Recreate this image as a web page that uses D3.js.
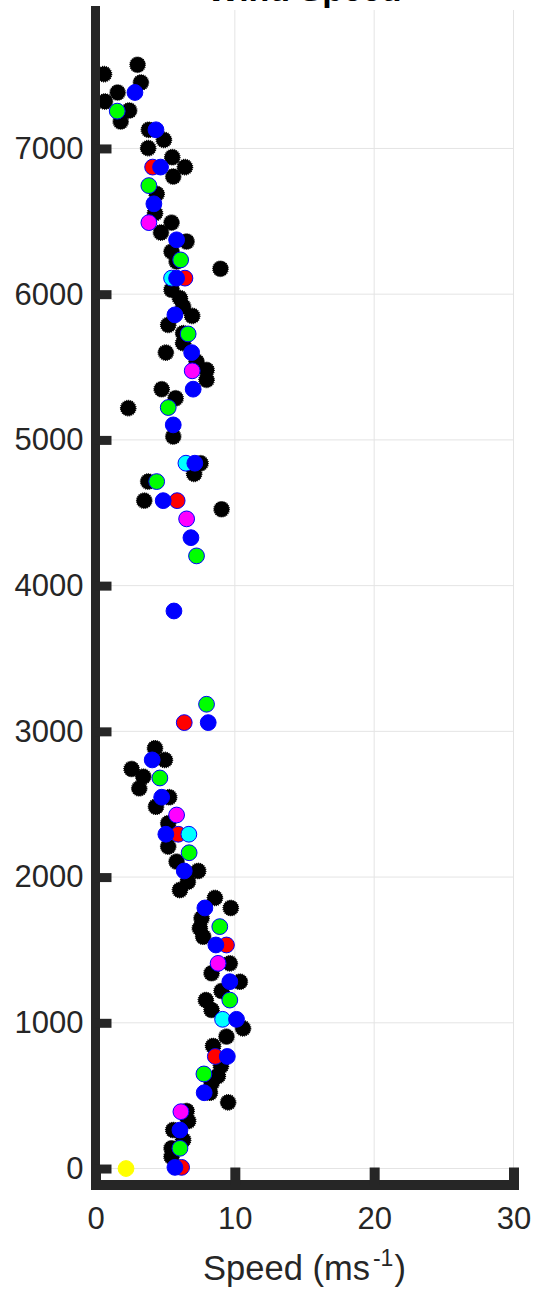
<!DOCTYPE html>
<html>
<head>
<meta charset="utf-8">
<script src="https://cdn.jsdelivr.net/npm/d3@7"></script>
<style>
body { margin: 0; background: #fff; }
</style>
</head>
<body>
<svg id="chart" width="536" height="1293"></svg>
<script>
// axis setup
const xLimits = [0, 30];
const yLimits = [-113, 7950];
const xTicks = [0, 10, 20, 30];
const yTicks = [0, 1000, 2000, 3000, 4000, 5000, 6000, 7000];
const titleText = 'Wind Speed';
const xLabelText = 'Speed (ms';
const xLabelSup = '-1';

// [speed, altitude]
const blackPts = [[0.61,7510],[3.02,7574],[3.26,7452],[1.59,7384],[0.68,7322],[2.42,7260],[1.81,7185],[3.83,7128],[4.91,7059],[3.78,7002],[5.51,6940],[6.42,6872],[5.58,6807],[4.39,6688],[4.27,6556],[5.46,6491],[4.70,6423],[6.54,6361],[5.46,6292],[5.82,6224],[8.97,6174],[5.46,6030],[6.06,5973],[6.29,5915],[6.94,5851],[5.22,5789],[6.29,5732],[6.29,5664],[5.05,5599],[7.25,5537],[7.97,5480],[7.97,5412],[4.75,5348],[5.75,5286],[2.35,5218],[5.58,5023],[7.54,4840],[7.08,4767],[3.78,4714],[3.50,4583],[9.05,4524],[4.27,2884],[4.98,2804],[2.59,2742],[3.43,2689],[3.14,2609],[5.29,2548],[4.34,2483],[5.22,2369],[5.22,2209],[5.82,2106],[7.37,2042],[6.63,1968],[6.06,1911],[8.57,1857],[9.71,1788],[7.61,1717],[7.49,1649],[7.73,1591],[9.64,1408],[8.33,1340],[10.36,1282],[9.05,1218],[7.92,1156],[8.33,1088],[10.59,962],[9.40,905],[8.44,841],[9.00,703],[8.78,635],[8.33,585],[8.21,520],[9.52,454],[6.54,395],[6.65,326],[5.58,264],[6.29,196],[5.46,139],[5.46,81]];
const yellowPts = [[2.19,0]];
const magentaPts = [[3.83,6491],[6.94,5474],[6.54,4458],[5.82,2426],[8.80,1408],[6.13,390]];
const greenPts = [[1.56,7256],[3.83,6745],[6.11,6235],[6.65,5727],[5.22,5222],[4.39,4714],[7.25,4204],[7.97,3186],[4.62,2680],[6.72,2167],[8.92,1660],[9.64,1156],[7.78,649],[6.06,139]];
const redPts = [[4.10,6872],[6.42,6110],[5.86,4583],[6.37,3060],[5.94,2294],[9.40,1534],[8.60,769],[6.18,8]];
const cyanPts = [[5.46,6110],[6.49,4840],[6.70,2294],[9.12,1024]];
const bluePts = [[2.83,7384],[4.34,7128],[4.67,6872],[4.19,6620],[5.82,6373],[5.82,6110],[5.70,5858],[6.90,5599],[7.01,5348],[5.58,5103],[7.13,4840],[4.86,4583],[6.85,4329],[5.63,3826],[8.09,3060],[4.07,2804],[4.75,2548],[5.05,2294],[6.37,2042],[7.85,1788],[8.64,1534],[9.64,1282],[10.12,1024],[9.46,769],[7.80,520],[6.06,264],[5.70,8]];

const axisColor = '#262626';
const font = 'Arial, "Liberation Sans", Helvetica, sans-serif';

const svg = d3.select('#chart');
const x = d3.scaleLinear().domain(xLimits).range([95.5, 513.5]);
const y = d3.scaleLinear().domain(yLimits).range([1185, 10]);

//grid
const grid = svg.append('g').attr('stroke', '#e4e4e4').attr('stroke-width', 1);
grid.selectAll('.vg').data(xTicks.slice(1)).join('line')
    .attr('x1', d => x(d)).attr('x2', d => x(d))
    .attr('y1', y(yLimits[0])).attr('y2', y(yLimits[1]));
grid.selectAll('.hg').data(yTicks).join('line')
    .attr('x1', x(xLimits[0])).attr('x2', x(xLimits[1]))
    .attr('y1', d => y(d)).attr('y2', d => y(d));

//black markers, slightly ragged edge
svg.append('g').selectAll('circle').data(blackPts).join('circle')
    .attr('cx', d => x(d[0])).attr('cy', d => y(d[1]))
    .attr('r', 7.7)
    .attr('fill', '#000')
    .attr('stroke', '#000').attr('stroke-width', 1.3)
    .attr('stroke-dasharray', '1 1');

//coloured series, drawn in this order
const series = [
    { pts: yellowPts, fill: '#ffff00', edge: '#ffff00' },
    { pts: magentaPts, fill: '#ff00ff', edge: '#0000ff' },
    { pts: greenPts, fill: '#00ff00', edge: '#0000ff' },
    { pts: redPts, fill: '#ff0000', edge: '#0000ff' },
    { pts: cyanPts, fill: '#00ffff', edge: '#0000ff' },
    { pts: bluePts, fill: '#0000ff', edge: '#0000ff' }
];
series.forEach(s => {
    svg.append('g').selectAll('circle').data(s.pts).join('circle')
        .attr('cx', d => x(d[0])).attr('cy', d => y(d[1]))
        .attr('r', 7.9)
        .attr('fill', s.fill)
        .attr('stroke', s.edge).attr('stroke-width', 1);
});

//axes
const yAxis = d3.axisLeft(y).tickValues(yTicks).tickFormat(d3.format('d'))
    .tickSizeInner(-16.5).tickSizeOuter(0).tickPadding(11.5);
const gy = svg.append('g').attr('transform', `translate(${x(0) - 0.5},0)`).call(yAxis)
    .attr('font-size', 31).attr('font-family', font).style('color', axisColor);
gy.select('.domain').attr('stroke-width', 9).attr('stroke-linecap', 'square');
gy.selectAll('.tick line').attr('stroke-width', 9);

const xAxis = d3.axisBottom(x).tickValues(xTicks).tickFormat(d3.format('d'))
    .tickSizeInner(-17).tickSizeOuter(0).tickPadding(22);
const gx = svg.append('g').attr('transform', `translate(0,${y(yLimits[0]) - 0.5})`).call(xAxis)
    .attr('font-size', 31).attr('font-family', font).style('color', axisColor);
gx.select('.domain').attr('stroke-width', 10).attr('stroke-linecap', 'square');
gx.selectAll('.tick line').attr('stroke-width', 10);

//title (cut off at the top, as in the original)
svg.append('text')
    .attr('x', (x(xLimits[0]) + x(xLimits[1])) / 2).attr('y', 0.5)
    .attr('text-anchor', 'middle')
    .attr('font-family', font).attr('font-size', 34).attr('font-weight', 'bold')
    .attr('fill', '#000')
    .text(titleText);

//x label with superscript
const xl = svg.append('text')
    .attr('x', (x(xLimits[0]) + x(xLimits[1])) / 2).attr('y', 1280)
    .attr('text-anchor', 'middle')
    .attr('font-family', font).attr('font-size', 34.5)
    .attr('fill', axisColor);
xl.append('tspan').text(xLabelText);
xl.append('tspan').attr('dy', -14).attr('dx', 3).attr('font-size', 23).text(xLabelSup);
xl.append('tspan').attr('dy', 14).attr('dx', 1).text(')');
</script>
</body>
</html>
